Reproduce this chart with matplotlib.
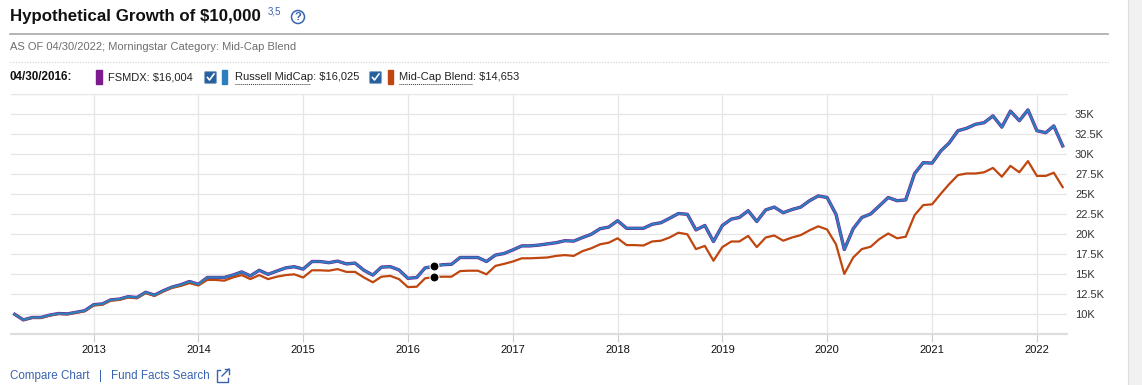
from matplotlib import pyplot as plt
from matplotlib import patches
from matplotlib.lines import Line2D
from matplotlib.ticker import FuncFormatter
import pandas as pd

# month-end values from 04/2012 to 04/2022, in thousands of dollars
months = pd.date_range("2012-04-01", "2022-04-01", freq="MS")

russell = [10.0, 9.3, 9.6, 9.6, 9.9, 10.1, 10.05, 10.25, 10.45, 11.2,
           11.3, 11.8, 11.9, 12.2, 12.1, 12.75, 12.4, 12.95, 13.4, 13.7,
           14.1, 13.75, 14.6, 14.6, 14.6, 14.9, 15.3, 14.8, 15.5, 15.0,
           15.4, 15.8, 15.95, 15.65, 16.6, 16.6, 16.45, 16.65, 16.3, 16.4,
           15.5, 14.9, 15.9, 15.95, 15.55, 14.5, 14.6, 15.8, 16.025, 16.2,
           16.25, 17.1, 17.1, 17.1, 16.6, 17.4, 17.6, 18.05, 18.55, 18.55,
           18.65, 18.8, 18.95, 19.2, 19.15, 19.6, 20.0, 20.7, 20.9, 21.7,
           20.75, 20.75, 20.75, 21.25, 21.45, 22.0, 22.6, 22.5, 20.55, 21.1,
           19.1, 21.1, 21.9, 22.1, 22.95, 21.6, 23.05, 23.4, 22.7, 23.1,
           23.4, 24.2, 24.8, 24.6, 22.5, 18.1, 20.7, 22.1, 22.55, 23.55,
           24.6, 24.2, 24.3, 27.6, 28.95, 28.9, 30.45, 31.4, 32.95, 33.25,
           33.75, 33.95, 34.8, 33.4, 35.4, 34.2, 35.55, 32.95, 32.7, 33.55,
           31.05]

fsmdx = [10.0, 9.3, 9.6, 9.6, 9.9, 10.1, 10.05, 10.25, 10.45, 11.2,
         11.3, 11.8, 11.9, 12.2, 12.1, 12.75, 12.4, 12.95, 13.4, 13.7,
         14.1, 13.75, 14.6, 14.6, 14.6, 14.9, 15.3, 14.8, 15.5, 15.0,
         15.4, 15.8, 15.95, 15.65, 16.6, 16.6, 16.45, 16.65, 16.3, 16.4,
         15.5, 14.9, 15.9, 15.95, 15.55, 14.5, 14.6, 15.8, 16.004, 16.2,
         16.25, 17.1, 17.1, 17.1, 16.6, 17.4, 17.6, 18.05, 18.55, 18.55,
         18.65, 18.8, 18.95, 19.2, 19.15, 19.6, 20.0, 20.7, 20.9, 21.7,
         20.75, 20.75, 20.75, 21.25, 21.45, 22.0, 22.6, 22.5, 20.55, 21.1,
         19.1, 21.1, 21.9, 22.1, 22.95, 21.6, 23.05, 23.4, 22.7, 23.1,
         23.4, 24.2, 24.8, 24.6, 22.5, 18.1, 20.7, 22.1, 22.55, 23.55,
         24.6, 24.2, 24.3, 27.6, 28.95, 28.9, 30.45, 31.4, 32.95, 33.25,
         33.75, 33.95, 34.8, 33.4, 35.4, 34.2, 35.55, 32.95, 32.7, 33.55,
         31.05]

midcap_blend = [10.0, 9.3, 9.55, 9.55, 9.85, 10.05, 10.0, 10.2, 10.4, 11.1,
                11.2, 11.7, 11.8, 12.1, 12.0, 12.65, 12.3, 12.85, 13.3, 13.55,
                13.9, 13.6, 14.3, 14.3, 14.2, 14.6, 14.9, 14.4, 14.9, 14.4,
                14.7, 14.9, 15.0, 14.6, 15.5, 15.5, 15.45, 15.65, 15.3, 15.3,
                14.6, 14.0, 14.7, 14.8, 14.4, 13.4, 13.45, 14.5, 14.653, 14.7,
                14.7, 15.4, 15.45, 15.45, 15.0, 16.05, 16.3, 16.6, 17.0, 17.0,
                17.05, 17.1, 17.3, 17.4, 17.3, 17.9, 18.25, 18.75, 18.95, 19.5,
                18.65, 18.65, 18.6, 19.1, 19.2, 19.6, 20.2, 20.0, 18.15, 18.55,
                16.7, 18.4, 19.1, 19.1, 19.8, 18.4, 19.6, 19.85, 19.2, 19.6,
                19.9, 20.5, 21.0, 20.6, 18.75, 15.05, 17.1, 18.15, 18.45, 19.4,
                20.1, 19.5, 19.7, 22.4, 23.65, 23.75, 25.1, 26.25, 27.4, 27.6,
                27.6, 27.75, 28.3, 27.2, 28.55, 27.75, 29.15, 27.3, 27.3, 27.7,
                25.9]

hover_month = pd.Timestamp("2016-04-01")
years = list(range(2013, 2023))
y_ticks = [10, 12.5, 15, 17.5, 20, 22.5, 25, 27.5, 30, 32.5, 35]

purple = "#7d1a8e"
blue = "#2a80bf"
orange = "#c0460f"
link = "#3a64b0"
W, H = 1142, 385

plt.rcParams["font.family"] = ["Liberation Sans", "DejaVu Sans"]
fig = plt.figure(figsize=(W / 100, H / 100), dpi=100)


def fx(x):
    return x / W


def fy(y):
    return 1 - y / H


def inch(x, y):
    return (x / 100, (H - y) / 100)


# header
fig.text(fx(10), fy(17), "Hypothetical Growth of $10,000", fontsize=12.2,
         fontweight="bold", va="center", ha="left", color="#111111")
fig.text(fx(268), fy(12), "3,5", fontsize=7, color=link, va="center")
fig.add_artist(patches.Circle(inch(298, 17), 0.065, fill=False, ec=link, lw=1.1,
                              transform=fig.dpi_scale_trans))
fig.text(fx(298), fy(17.5), "?", fontsize=8, color=link, ha="center", va="center",
         fontweight="bold")
fig.add_artist(Line2D([fx(10), fx(1108)], [fy(34), fy(34)], color="#a8a8a8", lw=1.2))
fig.text(fx(10), fy(47), "AS OF 04/30/2022; Morningstar Category: Mid-Cap Blend",
         fontsize=8, color="#6e6e6e", va="center")
fig.add_artist(Line2D([fx(10), fx(1108)], [fy(62), fy(62)], color="#cfcfcf", lw=0.8,
                      ls=(0, (1, 1.5))))

# legend row
ly = 77
fig.text(fx(10), fy(ly), "04/30/2016:", fontsize=8.4, fontweight="bold", va="center",
         color="#111111")


def bar(x, color):
    fig.add_artist(patches.Rectangle(inch(x, ly + 7), 0.055, 0.14, color=color,
                                     transform=fig.dpi_scale_trans))


def checkbox(x):
    fig.add_artist(patches.FancyBboxPatch(inch(x + 1, ly + 6), 0.11, 0.11,
                                          boxstyle="round,pad=0.005,rounding_size=0.015",
                                          fc="#245f9e", ec="#8aa6c4", lw=0.8,
                                          transform=fig.dpi_scale_trans))
    xs = [x + 3.5, x + 5.5, x + 10]
    ys = [ly + 0.5, ly + 3, ly - 3]
    fig.add_artist(Line2D([fx(v) for v in xs], [fy(v) for v in ys], color="white", lw=1.2))


bar(96, purple)
fig.text(fx(108), fy(ly), "FSMDX: $16,004", fontsize=8, va="center", color="#222222")
checkbox(204)
bar(221.5, blue)
fig.text(fx(235), fy(ly), "Russell MidCap: $16,025", fontsize=8, va="center", color="#222222")
fig.add_artist(Line2D([fx(235), fx(310)], [fy(84), fy(84)], color="#333333", lw=0.7,
                      ls=(0, (1, 1))))
checkbox(369)
bar(387.5, orange)
fig.text(fx(399), fy(ly), "Mid-Cap Blend: $14,653", fontsize=8, va="center", color="#222222")
fig.add_artist(Line2D([fx(399), fx(472)], [fy(84), fy(84)], color="#333333", lw=0.7,
                      ls=(0, (1, 1))))

# chart
ax = fig.add_axes([fx(11), fy(334.3), fx(1066.7) - fx(11), (334.3 - 94.3) / H])
ax.plot(months, fsmdx, color=purple, lw=2.4, solid_joinstyle="round", zorder=3)
ax.plot(months, russell, color=blue, lw=1.6, solid_joinstyle="round", zorder=4)
ax.plot(months, midcap_blend, color=orange, lw=1.6, solid_joinstyle="round", zorder=3)
k = list(months).index(hover_month)
ax.scatter([hover_month, hover_month], [russell[k], midcap_blend[k]], s=42,
           color="black", edgecolor="white", linewidth=0.8, zorder=5)

ax.set_xlim(months[0] - pd.Timedelta(days=13), months[-1] + pd.Timedelta(days=14))
ax.set_ylim(7.5, 37.5)
ax.set_yticks([7.5] + y_ticks + [37.5])
ax.yaxis.set_major_formatter(FuncFormatter(
    lambda v, p: "" if v in (7.5, 37.5) else f"{v:g}K"))
ax.yaxis.tick_right()
ax.tick_params(axis="y", length=0, pad=6, labelsize=8, labelcolor="#333333")
ax.set_xticks([pd.Timestamp(f"{y}-01-01") for y in years])
ax.set_xticklabels([str(y) for y in years])
ax.tick_params(axis="x", length=6, width=0.8, color="#cccccc", pad=2, labelsize=8,
               labelcolor="#111111")
ax.grid(True, color="#e6e6e6", lw=0.9)
ax.set_axisbelow(True)
for s in ("left", "right"):
    ax.spines[s].set_visible(False)
ax.spines["top"].set_color("#e6e6e6")
ax.spines["bottom"].set_color("#dddddd")
ax.spines["bottom"].set_linewidth(1.6)

# footer links
fig.text(fx(10), fy(376), "Compare Chart", fontsize=8.4, color=link, va="center")
fig.text(fx(99.5), fy(376), "|", fontsize=8.4, color=link, va="center")
fig.text(fx(111), fy(376), "Fund Facts Search", fontsize=8.4, color=link, va="center")
box_x = [220, 217, 217, 228, 228]
box_y = [370, 370, 382, 382, 378]
fig.add_artist(Line2D([fx(v) for v in box_x], [fy(v) for v in box_y], color=link, lw=1))
fig.add_artist(Line2D([fx(222), fx(229)], [fy(376), fy(369)], color=link, lw=1))
fig.add_artist(Line2D([fx(224.5), fx(229), fx(229)], [fy(369), fy(369), fy(373.5)],
                      color=link, lw=1))

# right-hand scroll strip
fig.add_artist(patches.Rectangle((fx(1128), 0), fx(14), 1, fc="#f1f1f1", ec="none"))
fig.add_artist(Line2D([fx(1128), fx(1128)], [0, 1], color="#dedede", lw=0.8))

fig.savefig("out.png", dpi=100)
